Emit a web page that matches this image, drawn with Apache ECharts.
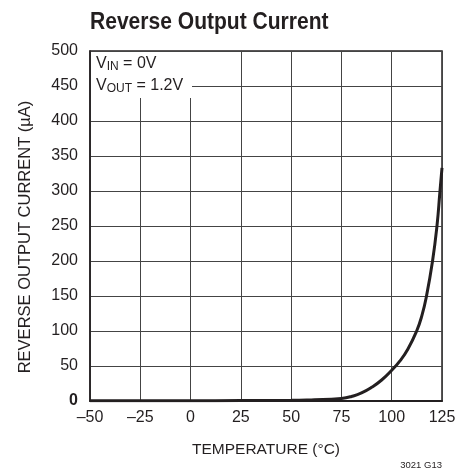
<!DOCTYPE html>
<html>
<head>
<meta charset="utf-8">
<script src="https://cdn.jsdelivr.net/npm/echarts@6/dist/echarts.min.js"></script>
<style>html,body{margin:0;padding:0;background:#fff}#c{width:471px;height:471px}</style>
</head>
<body>
<div id="c"></div>
<script>
const titleText = 'Reverse Output Current';
const xAxisName = 'TEMPERATURE (°C)';
const yAxisName = 'REVERSE OUTPUT CURRENT (µA)';
const footNote = '3021 G13';
const xMin = -50, xMax = 125, xStep = 25;
const yMin = 0, yMax = 500, yStep = 50;
const temperatures = [-50, -25, 0, 25, 50, 60, 70, 75, 80, 85, 90, 95, 100, 104, 108, 112.4, 115, 117.3, 120.3, 122.5, 124, 125];
const reverseCurrent = [0.3, 0.3, 0.4, 0.6, 1.0, 1.6, 2.6, 3.5, 6.5, 11.5, 19.5, 30, 44, 57, 74, 100, 122, 150, 200, 250, 300, 333];

const FONT = '"Liberation Sans", Arial, Helvetica, sans-serif';
const chart = echarts.init(document.getElementById('c'));
chart.setOption({
  backgroundColor: '#fff',
  animation: false,
  grid: { left: 90, right: 29, top: 51, bottom: 70, show: true, borderColor: '#231f20', borderWidth: 1.5, backgroundColor: 'transparent' },
  xAxis: {
    type: 'value', min: xMin, max: xMax, interval: xStep,
    name: xAxisName, nameLocation: 'middle', nameGap: 41,
    nameTextStyle: { fontFamily: FONT, fontSize: 15.5, color: '#231f20' },
    axisLine: { show: true, onZero: false, lineStyle: { color: '#231f20', width: 2 } },
    axisTick: { show: false },
    axisLabel: { fontFamily: FONT, fontSize: 16, color: '#231f20', margin: 9,
      formatter: v => String(v).replace('-', '\u2013') },
    splitLine: { show: true, lineStyle: { color: '#444', width: 1 } }
  },
  yAxis: {
    type: 'value', min: yMin, max: yMax, interval: yStep,
    name: yAxisName, nameLocation: 'middle', nameGap: 56,
    nameTextStyle: { fontFamily: FONT, fontSize: 16.5, color: '#231f20', padding: [0, 22, 0, 0] },
    axisLine: { show: true, onZero: false, lineStyle: { color: '#231f20', width: 1.5 } },
    axisTick: { show: false },
    axisLabel: { fontFamily: FONT, fontSize: 16, color: '#231f20', margin: 12,
      formatter: v => v === 0 ? '{b|0}' : String(v),
      rich: { b: { fontFamily: FONT, fontSize: 16, fontWeight: 'bold', color: '#231f20' } } },
    splitLine: { show: true, lineStyle: { color: '#444', width: 1 } }
  },
  series: [{
    type: 'line',
    data: temperatures.map((t, i) => [t, reverseCurrent[i]]),
    showSymbol: false, smooth: 0.5,
    lineStyle: { color: '#231f20', width: 3 },
    z: 5
  }],
  graphic: [
    { type: 'text', x: 90, y: 11, scaleX: 0.915, z: 51,
      style: { text: titleText, fontFamily: FONT, fontSize: 23, fontWeight: 'bold', fill: '#231f20' } },
    { type: 'rect', left: 91, top: 52, shape: { width: 101, height: 46 }, style: { fill: '#fff' }, z: 50 },
    { type: 'text', left: 96, top: 56, z: 51,
      style: { text: '{m|V}{s|IN}{m| = 0V}',
        rich: { m: { fontFamily: FONT, fontSize: 16, fill: '#231f20', lineHeight: 18, verticalAlign: 'middle' },
                s: { fontFamily: FONT, fontSize: 12, fill: '#231f20', lineHeight: 8, verticalAlign: 'bottom' } } } },
    { type: 'text', left: 96, top: 78, z: 51,
      style: { text: '{m|V}{s|OUT}{m| = 1.2V}',
        rich: { m: { fontFamily: FONT, fontSize: 16, fill: '#231f20', lineHeight: 18, verticalAlign: 'middle' },
                s: { fontFamily: FONT, fontSize: 12, fill: '#231f20', lineHeight: 8, verticalAlign: 'bottom' } } } },
    { type: 'text', right: 29, top: 460, z: 51,
      style: { text: footNote, fontFamily: FONT, fontSize: 9.5, fill: '#231f20' } }
  ]
});
</script>
</body>
</html>
